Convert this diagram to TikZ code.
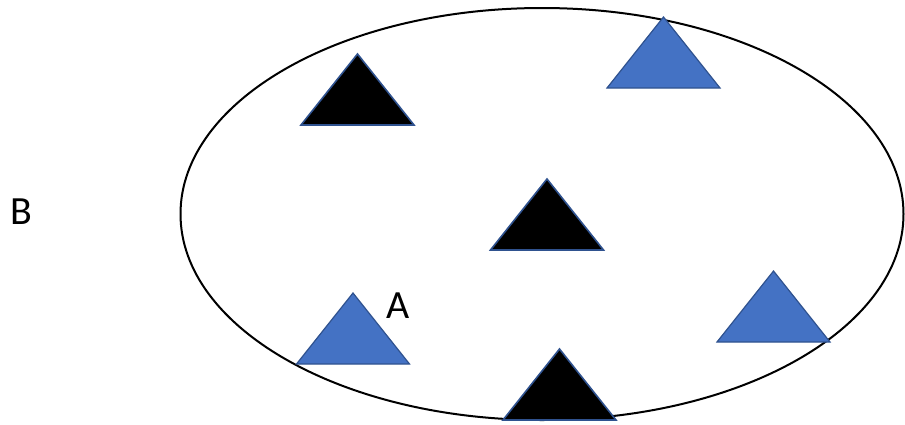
\documentclass[tikz,border=0pt]{standalone}
\usepackage{fontspec}
\setmainfont{Carlito}
\definecolor{offblue}{HTML}{4472C4}
\definecolor{offedge}{HTML}{2F528F}
\tikzset{
  blacktri/.style={fill=black, draw=offedge, line width=1.6pt, line join=miter},
  bluetri/.style={fill=offblue, draw=offedge, line width=1.2pt, line join=miter},
  lbl/.style={font=\fontsize{40}{48}\selectfont, inner sep=0pt}
}
\begin{document}
\begin{tikzpicture}[x=1pt, y=-1pt]
\useasboundingbox (0,0) rectangle (905,424);
\draw[line width=2pt] (542,214) ellipse [x radius=361.5, y radius=206];
% triangles: apex x, apex y
\foreach \ax/\ay in {357.5/54, 547/179, 559.5/349}
  \draw[blacktri] (\ax,\ay) -- (\ax+56.5,\ay+71) -- (\ax-56.5,\ay+71) -- cycle;
\foreach \ax/\ay in {663.5/17, 353/293, 773.5/271}
  \draw[bluetri] (\ax,\ay) -- (\ax+56.5,\ay+71) -- (\ax-56.5,\ay+71) -- cycle;
\node[lbl] (B) at (21,212) {B};
\node[lbl] (A) at (398,306) {A};
\end{tikzpicture}
\end{document}
